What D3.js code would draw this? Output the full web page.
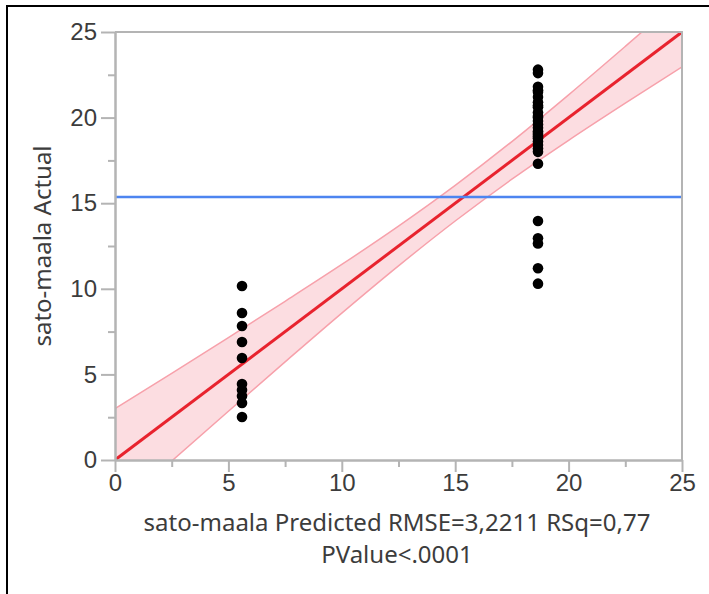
<!DOCTYPE html>
<html>
<head>
<meta charset="utf-8">
<script src="https://cdn.jsdelivr.net/npm/d3@7"></script>
<style>
  body { margin: 0; background: #fff; }
  svg { display: block; font-family: "Noto Sans", "DejaVu Sans", sans-serif; }
</style>
</head>
<body>
<div id="container"></div>
<script>
// predicted value of each group and the actual values observed in it
const leftPredicted = 5.6;
const leftActual = [10.16, 8.59, 7.83, 6.89, 5.96, 4.44, 4.09, 3.74, 3.33, 2.51];
const rightPredicted = 18.65;
const rightActual = [22.8, 22.6, 21.8, 21.6, 21.5, 21.2, 20.9, 20.7, 20.6, 20.3, 20.1, 20.0,
  19.8, 19.6, 19.4, 19.2, 19.1, 19.0, 18.9, 18.8, 18.6, 18.4, 18.2, 18.0, 17.3,
  13.96, 12.95, 12.65, 11.2, 10.3];
const meanActual = 15.36;

// confidence band half width along the fit line
const bandX = [0, 2.5, 5, 7.5, 10, 12.5, 15, 17.5, 20, 22.5, 25];
const bandHalf = [3.0, 2.56, 2.15, 1.77, 1.42, 1.16, 1.04, 1.10, 1.33, 1.66, 2.04];

const majorTicks = [0, 5, 10, 15, 20, 25];
const minorTicks = [2.5, 7.5, 12.5, 17.5, 22.5];
const xTitle = ["sato-maala Predicted RMSE=3,2211 RSq=0,77", "PValue<.0001"];
const yTitle = "sato-maala Actual";

const width = 709, height = 594;
const mLeft = 115, mRight = 682, mTop = 32, mBottom = 460;
const fontSize = "24px";
const textColor = "#3c3c3c";

const svg = d3.select("#container").append("svg")
  .attr("width", width)
  .attr("height", height);

// outer frame (top and left only)
svg.append("path")
  .attr("d", "M7,594V6H709")
  .attr("fill", "none")
  .attr("stroke", "#000")
  .attr("stroke-width", 2);

const x = d3.scaleLinear().domain([0, 25]).range([mLeft, mRight]);
const y = d3.scaleLinear().domain([0, 25]).range([mBottom, mTop]);

svg.append("defs").append("clipPath").attr("id", "clip")
  .append("rect")
  .attr("x", mLeft).attr("y", mTop)
  .attr("width", mRight - mLeft).attr("height", mBottom - mTop);

const plot = svg.append("g").attr("clip-path", "url(#clip)");

const band = bandX.map((v, i) => ({ x: v, lo: v - bandHalf[i], hi: v + bandHalf[i] }));

plot.append("path")
  .datum(band)
  .attr("fill", "#fcdde1")
  .attr("d", d3.area()
    .x(d => x(d.x))
    .y0(d => y(d.lo))
    .y1(d => y(d.hi))
    .curve(d3.curveMonotoneX));

["lo", "hi"].forEach(k => {
  plot.append("path")
    .datum(band)
    .attr("fill", "none")
    .attr("stroke", "#f7a1ab")
    .attr("stroke-width", 1.5)
    .attr("d", d3.line()
      .x(d => x(d.x))
      .y(d => y(d[k]))
      .curve(d3.curveMonotoneX));
});

// fit line
plot.append("line")
  .attr("x1", x(0)).attr("y1", y(0))
  .attr("x2", x(25)).attr("y2", y(25))
  .attr("stroke", "#e8232e")
  .attr("stroke-width", 3);

// mean line
plot.append("line")
  .attr("x1", x(0)).attr("x2", x(25))
  .attr("y1", y(meanActual)).attr("y2", y(meanActual))
  .attr("stroke", "#4d85f0")
  .attr("stroke-width", 2.5);

const points = leftActual.map(v => [leftPredicted, v])
  .concat(rightActual.map(v => [rightPredicted, v]));

svg.append("g").selectAll("circle")
  .data(points)
  .join("circle")
  .attr("cx", d => x(d[0]))
  .attr("cy", d => y(d[1]))
  .attr("r", 5.3)
  .attr("fill", "#000");

// axes
const axisColor = "#b4b4b4";
function styleAxis(g) {
  g.selectAll("path, line").attr("stroke", axisColor).attr("stroke-width", 2);
  g.selectAll("text").attr("fill", textColor).style("font-size", fontSize);
}

svg.append("g")
  .attr("transform", "translate(0," + mBottom + ")")
  .call(d3.axisBottom(x).tickValues(majorTicks).tickSize(12).tickSizeOuter(0).tickPadding(2))
  .call(styleAxis);
svg.append("g")
  .attr("transform", "translate(0," + mBottom + ")")
  .call(d3.axisBottom(x).tickValues(minorTicks).tickSize(7).tickFormat("").tickSizeOuter(0))
  .call(styleAxis);

svg.append("g")
  .attr("transform", "translate(" + mLeft + ",0)")
  .call(d3.axisLeft(y).tickValues(majorTicks).tickSize(14).tickSizeOuter(0).tickPadding(4))
  .call(styleAxis);
svg.append("g")
  .attr("transform", "translate(" + mLeft + ",0)")
  .call(d3.axisLeft(y).tickValues(minorTicks).tickSize(7).tickFormat("").tickSizeOuter(0))
  .call(styleAxis);

// plot frame top and right
svg.append("path")
  .attr("d", `M${mLeft},${mTop}H${mRight}V${mBottom}`)
  .attr("fill", "none")
  .attr("stroke", axisColor)
  .attr("stroke-width", 2);

// titles
svg.append("g").selectAll("text")
  .data(xTitle)
  .join("text")
  .attr("x", 397)
  .attr("y", (d, i) => 531 + i * 32)
  .attr("text-anchor", "middle")
  .attr("fill", textColor)
  .style("font-size", fontSize)
  .text(d => d);

svg.append("text")
  .attr("transform", `translate(51,${(mTop + mBottom) / 2}) rotate(-90)`)
  .attr("text-anchor", "middle")
  .attr("fill", textColor)
  .style("font-size", fontSize)
  .text(yTitle);
</script>
</body>
</html>
